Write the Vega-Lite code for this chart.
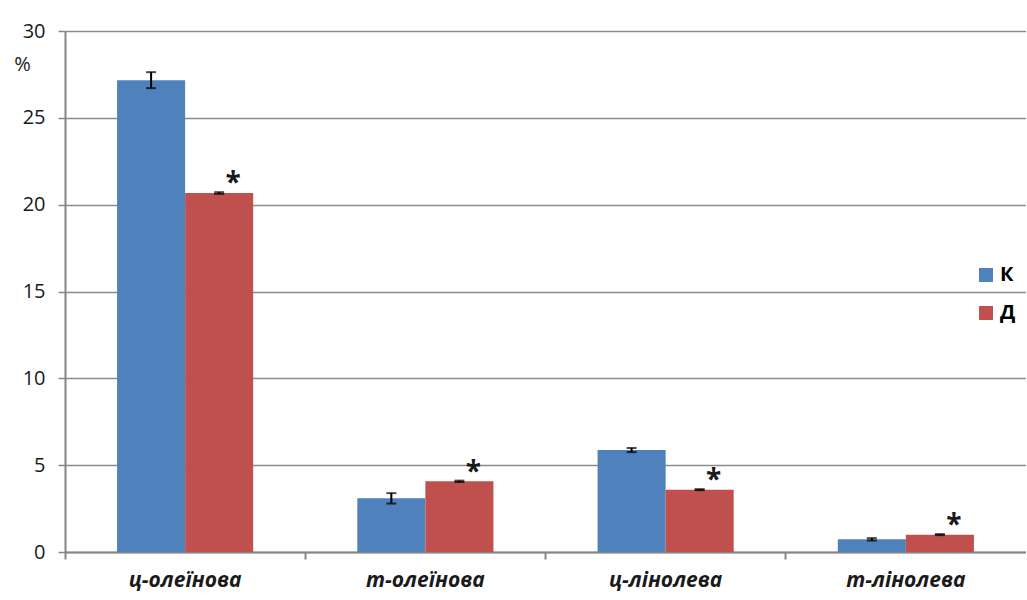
{
  "$schema": "https://vega.github.io/schema/vega-lite/v6.json",
  "autosize": {"type": "none"},
  "padding": {"left": 65, "top": 31, "right": 0, "bottom": 48},
  "width": 961,
  "height": 521,
  "background": "white",
  "config": {
    "view": {"stroke": null},
    "font": "Open Sans"
  },
  "data": {
    "values": [
      {"acid": "ц-олеїнова", "group": "К", "value": 27.17, "lo": 26.71, "hi": 27.63, "sig": ""},
      {"acid": "ц-олеїнова", "group": "Д", "value": 20.67, "lo": 20.62, "hi": 20.72, "sig": "*"},
      {"acid": "т-олеїнова", "group": "К", "value": 3.09, "lo": 2.79, "hi": 3.39, "sig": ""},
      {"acid": "т-олеїнова", "group": "Д", "value": 4.07, "lo": 4.03, "hi": 4.11, "sig": "*"},
      {"acid": "ц-лінолева", "group": "К", "value": 5.87, "lo": 5.75, "hi": 5.99, "sig": ""},
      {"acid": "ц-лінолева", "group": "Д", "value": 3.59, "lo": 3.56, "hi": 3.62, "sig": "*"},
      {"acid": "т-лінолева", "group": "К", "value": 0.73, "lo": 0.66, "hi": 0.8, "sig": ""},
      {"acid": "т-лінолева", "group": "Д", "value": 1.0, "lo": 0.97, "hi": 1.03, "sig": "*"}
    ]
  },
  "encoding": {
    "x": {
      "field": "acid",
      "type": "nominal",
      "sort": ["ц-олеїнова", "т-олеїнова", "ц-лінолева", "т-лінолева"],
      "scale": {"paddingInner": 0, "paddingOuter": 0},
      "axis": {
        "title": null,
        "labelAngle": 0,
        "labelFont": "Open Sans",
        "labelFontSize": 21,
        "labelFontWeight": "bold",
        "labelFontStyle": "italic",
        "labelColor": "#1a1a1a",
        "labelPadding": 10,
        "bandPosition": 0,
        "ticks": true,
        "tickSize": 7,
        "tickWidth": 2,
        "tickColor": "#868686",
        "domainColor": "#868686",
        "domainWidth": 2,
        "grid": false
      }
    },
    "xOffset": {
      "field": "group",
      "type": "nominal",
      "sort": ["К", "Д"],
      "scale": {"paddingInner": 0, "paddingOuter": 0.765}
    }
  },
  "layer": [
    {
      "mark": {"type": "bar"},
      "encoding": {
        "y": {
          "field": "value",
          "type": "quantitative",
          "scale": {"domain": [0, 30]},
          "axis": {
            "values": [0, 5, 10, 15, 20, 25, 30],
            "title": "%",
            "titleAngle": 0,
            "titleX": -43,
            "titleY": 33,
            "titleAlign": "center",
            "titleBaseline": "middle",
            "titleFontSize": 20,
            "titleFontWeight": "normal",
            "titleColor": "#1a1a1a",
            "labelFontSize": 20,
            "labelColor": "#1a1a1a",
            "labelPadding": 13,
            "tickSize": 7,
            "tickColor": "#868686",
            "tickWidth": 1.5,
            "domainColor": "#868686",
            "domainWidth": 2,
            "grid": true,
            "gridColor": "#8c8c8c",
            "gridWidth": 1.3
          }
        },
        "color": {
          "field": "group",
          "type": "nominal",
          "scale": {"domain": ["К", "Д"], "range": ["#4F81BD", "#C0504D"]},
          "legend": {
            "title": null,
            "orient": "none",
            "legendX": 911,
            "legendY": 234,
            "padding": 0,
            "symbolType": "square",
            "symbolSize": 196,
            "symbolStrokeWidth": 0,
            "labelFontSize": 20,
            "labelFontWeight": "bold",
            "labelColor": "#000000",
            "labelOffset": 4,
            "rowPadding": 18
          }
        }
      }
    },
    {
      "mark": {"type": "rule", "color": "#000000", "strokeWidth": 2},
      "encoding": {
        "y": {"field": "lo", "type": "quantitative"},
        "y2": {"field": "hi"}
      }
    },
    {
      "mark": {"type": "tick", "color": "#000000", "thickness": 2, "size": 10},
      "encoding": {
        "y": {"field": "lo", "type": "quantitative"}
      }
    },
    {
      "mark": {"type": "tick", "color": "#000000", "thickness": 2, "size": 10},
      "encoding": {
        "y": {"field": "hi", "type": "quantitative"}
      }
    },
    {
      "mark": {"type": "text", "fontSize": 28, "fontWeight": "bold", "baseline": "alphabetic", "align": "center", "dx": 14, "dy": 0, "color": "#1a1a1a"},
      "encoding": {
        "y": {"field": "hi", "type": "quantitative"},
        "text": {"field": "sig"}
      }
    }
  ]
}
